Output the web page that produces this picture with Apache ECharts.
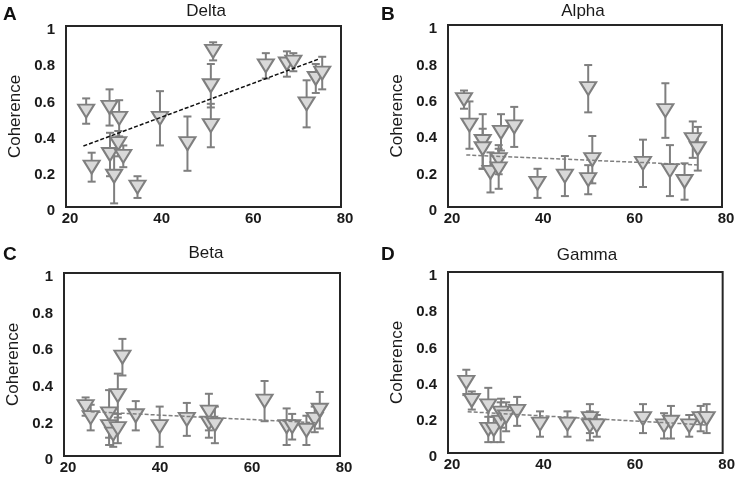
<!DOCTYPE html>
<html>
<head>
<meta charset="utf-8">
<script src="https://cdn.jsdelivr.net/npm/echarts@6/dist/echarts.min.js"></script>
<style>
  html, body { margin: 0; padding: 0; background: #fff; }
  #chart { width: 738px; height: 483px; }
</style>
</head>
<body>
<div id="chart"></div>
<script>
// age (x), coherence (y) and error bar half length for every band
const deltaX = [24.4, 25.6, 29.5, 29.6, 30.5, 31.6, 31.4, 32.5, 35.6, 40.5, 46.5, 52.1, 51.6, 51.6, 63.6, 68.2, 69.6, 72.5, 74.5, 75.9]
const deltaY = [0.53, 0.22, 0.55, 0.29, 0.17, 0.49, 0.35, 0.28, 0.11, 0.49, 0.35, 0.86, 0.67, 0.45, 0.78, 0.79, 0.80, 0.57, 0.71, 0.74]
const deltaErr = [0.07, 0.08, 0.10, 0.12, 0.15, 0.10, 0.07, 0.06, 0.06, 0.15, 0.15, 0.05, 0.12, 0.12, 0.07, 0.07, 0.05, 0.13, 0.08, 0.09]
const deltaTrend = [[23.8, 0.337], [75.0, 0.816]]

const alphaX = [23.5, 24.7, 27.6, 27.6, 29.3, 31.1, 31.1, 31.6, 34.5, 39.6, 45.6, 50.7, 50.7, 51.6, 62.7, 67.6, 68.6, 71.8, 73.6, 74.7]
const alphaY = [0.59, 0.45, 0.36, 0.32, 0.19, 0.26, 0.21, 0.41, 0.44, 0.13, 0.17, 0.65, 0.15, 0.26, 0.24, 0.53, 0.20, 0.14, 0.37, 0.32]
const alphaErr = [0.05, 0.13, 0.15, 0.11, 0.11, 0.08, 0.11, 0.10, 0.11, 0.08, 0.11, 0.13, 0.08, 0.13, 0.13, 0.15, 0.14, 0.10, 0.10, 0.12]
const alphaTrend = [[24.0, 0.286], [74.9, 0.231]]

const betaX = [24.7, 25.8, 29.8, 29.8, 30.7, 31.7, 31.7, 32.7, 35.6, 40.8, 46.7, 51.5, 51.5, 52.8, 63.6, 68.4, 69.6, 72.7, 74.5, 75.6]
const betaY = [0.27, 0.21, 0.23, 0.16, 0.12, 0.15, 0.33, 0.54, 0.22, 0.16, 0.20, 0.24, 0.18, 0.17, 0.30, 0.16, 0.16, 0.14, 0.20, 0.25]
const betaErr = [0.05, 0.07, 0.13, 0.10, 0.07, 0.08, 0.12, 0.10, 0.08, 0.11, 0.09, 0.10, 0.08, 0.10, 0.11, 0.10, 0.07, 0.08, 0.07, 0.10]
const betaTrend = [[25.8, 0.242], [74.7, 0.182]]

const gammaX = [24.0, 25.2, 28.8, 28.8, 30.0, 31.5, 31.6, 32.7, 35.1, 40.1, 46.1, 51.0, 51.0, 52.5, 62.6, 67.2, 68.7, 72.7, 75.2, 76.5]
const gammaY = [0.39, 0.29, 0.26, 0.13, 0.13, 0.17, 0.22, 0.20, 0.23, 0.16, 0.16, 0.19, 0.15, 0.15, 0.19, 0.15, 0.17, 0.15, 0.19, 0.19]
const gammaErr = [0.07, 0.05, 0.10, 0.07, 0.07, 0.11, 0.08, 0.08, 0.08, 0.07, 0.07, 0.08, 0.08, 0.06, 0.08, 0.07, 0.09, 0.06, 0.07, 0.08]
const gammaTrend = [[24.3, 0.228], [76.2, 0.155]]

const xTicks = [20, 40, 60, 80]
const yTicks = [0, 0.2, 0.4, 0.6, 0.8, 1]

const panels = [
  { letter: 'A', title: 'Delta', x: deltaX, y: deltaY, err: deltaErr, trend: deltaTrend, trendColor: '#111' },
  { letter: 'B', title: 'Alpha', x: alphaX, y: alphaY, err: alphaErr, trend: alphaTrend, trendColor: '#7f7f7f' },
  { letter: 'C', title: 'Beta', x: betaX, y: betaY, err: betaErr, trend: betaTrend, trendColor: '#7f7f7f' },
  { letter: 'D', title: 'Gamma', x: gammaX, y: gammaY, err: gammaErr, trend: gammaTrend, trendColor: '#7f7f7f' }
]

// plot area boxes
const boxes = [
  { left: 66, top: 26, width: 275, height: 181 },
  { left: 448, top: 25, width: 274, height: 182 },
  { left: 64, top: 273, width: 276, height: 183 },
  { left: 448, top: 272, width: 276, height: 181 }
]
const titlePos = [[206, 11], [583, 11], [206, 253], [587, 255]]
const letterPos = [[3, 15], [381, 15], [3, 255], [381, 255]]

const FONT = 'Liberation Sans, Arial, sans-serif'
const GREY = '#7f7f7f'

function errorBar (params, api) {
  const x = api.value(0)
  const y = api.value(1)
  const e = api.value(2)
  const hi = api.coord([x, y + e])
  const lo = api.coord([x, y - e])
  const cap = 4
  const style = { stroke: GREY, lineWidth: 2 }
  return {
    type: 'group',
    children: [
      { type: 'line', shape: { x1: hi[0], y1: hi[1], x2: lo[0], y2: lo[1] }, style: style },
      { type: 'line', shape: { x1: hi[0] - cap, y1: hi[1], x2: hi[0] + cap, y2: hi[1] }, style: style },
      { type: 'line', shape: { x1: lo[0] - cap, y1: lo[1], x2: lo[0] + cap, y2: lo[1] }, style: style }
    ]
  }
}

const grid = []
const xAxis = []
const yAxis = []
const series = []
const graphic = []

panels.forEach(function (p, i) {
  grid.push(Object.assign({ show: true, borderColor: '#262626', borderWidth: 2, containLabel: false }, boxes[i]))
  xAxis.push({
    gridIndex: i,
    type: 'value',
    min: xTicks[0],
    max: xTicks[xTicks.length - 1],
    interval: 20,
    axisLine: { show: false },
    axisTick: { show: false },
    splitLine: { show: false },
    axisLabel: { color: '#1a1a1a', fontWeight: 'bold', fontSize: 15, fontFamily: FONT, margin: 4, padding: [0, 0, 0, 8] }
  })
  yAxis.push({
    gridIndex: i,
    type: 'value',
    min: yTicks[0],
    max: yTicks[yTicks.length - 1],
    interval: 0.2,
    name: 'Coherence',
    nameLocation: 'middle',
    nameGap: 42,
    nameTextStyle: { color: '#1a1a1a', fontSize: 17, fontFamily: FONT },
    axisLine: { show: false },
    axisTick: { show: false },
    splitLine: { show: false },
    axisLabel: {
      color: '#1a1a1a',
      fontWeight: 'bold',
      fontSize: 15,
      fontFamily: FONT,
      margin: 11,
      verticalAlign: 'top',
      lineHeight: 8,
      formatter: function (v) { return String(Math.round(v * 10) / 10) }
    }
  })

  const pts = p.x.map(function (x, k) { return [x, p.y[k], p.err[k]] })

  series.push({
    type: 'custom',
    xAxisIndex: i,
    yAxisIndex: i,
    renderItem: errorBar,
    encode: { x: 0, y: 1 },
    data: pts,
    z: 2,
    silent: true
  })
  series.push({
    type: 'scatter',
    xAxisIndex: i,
    yAxisIndex: i,
    symbol: 'triangle',
    symbolRotate: 180,
    symbolSize: [16, 13],
    itemStyle: { color: '#d9d9d9', borderColor: GREY, borderWidth: 2, opacity: 1 },
    data: pts.map(function (d) { return [d[0], d[1]] }),
    z: 3
  })
  series.push({
    type: 'line',
    xAxisIndex: i,
    yAxisIndex: i,
    symbol: 'none',
    lineStyle: { color: p.trendColor, width: 1.5, type: [4, 2] },
    data: p.trend,
    z: 4
  })

  graphic.push({
    type: 'text',
    style: { text: p.title, x: titlePos[i][0], y: titlePos[i][1], align: 'center', verticalAlign: 'middle', fontSize: 17, fontFamily: FONT, fill: '#1a1a1a' }
  })
  graphic.push({
    type: 'text',
    style: { text: p.letter, x: letterPos[i][0], y: letterPos[i][1], align: 'left', verticalAlign: 'middle', fontSize: 19, fontWeight: 'bold', fontFamily: FONT, fill: '#111' }
  })
})

const myChart = echarts.init(document.getElementById('chart'), null, { renderer: 'canvas' })
myChart.setOption({
  animation: false,
  grid: grid,
  xAxis: xAxis,
  yAxis: yAxis,
  series: series,
  graphic: graphic
})
</script>
</body>
</html>
